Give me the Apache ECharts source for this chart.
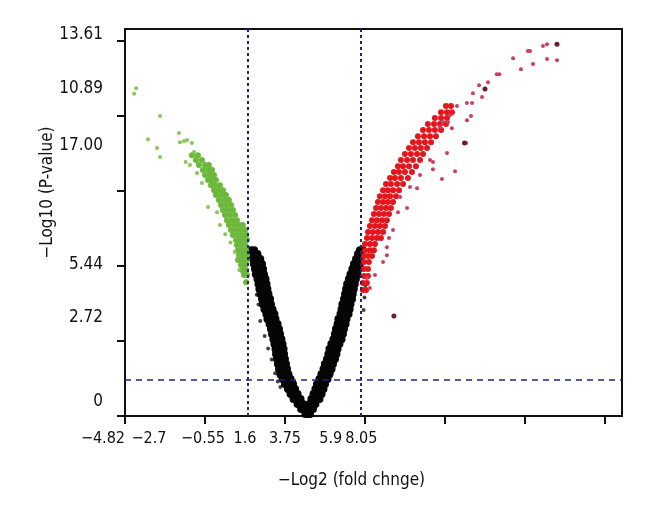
<!DOCTYPE html>
<html>
<head>
<meta charset="utf-8">
<script src="https://cdn.jsdelivr.net/npm/echarts@6/dist/echarts.min.js"></script>
<style>html,body{margin:0;padding:0;background:#fff;}#chart{width:660px;height:520px;}</style>
</head>
<body>
<div id="chart"></div>
<script>
// ---- tick labels (as printed in the figure) ----
const xTickValues = [-5.42, -0.854, 3.712, 8.278, 12.844, 17.41, 21.976];
const xLabelTexts = ['−4.82', '−2.7', '−0.55', '1.6', '3.75', '5.9', '8.05'];
const xLabelAt = [-5.42, -4.05, -0.97, 1.43, 3.71, 6.32, 8.07];
const yTickValues = [0, 2.722, 5.444, 8.166, 10.888, 13.61];
const yLabelTexts = ['0', '2.72', '5.44', '17.00', '10.89', '13.61'];
const yLabelAt = [0.508, 3.59, 5.48, 9.835, 11.90, 13.83];
const foldThresholds = [1.6, 8.05];
const pThreshold = 1.30;

// ---- points: [log2 fold change, -log10 p] ----
const blackLeft = [
[4.88,0.07],[5.02,0.07],[4.63,0.25],[4.88,0.25],
[4.43,0.44],[4.60,0.44],[4.74,0.44],[4.20,0.62],[4.40,0.62],[4.60,0.62],
[4.03,0.80],[4.23,0.80],[4.43,0.80],[3.88,0.98],[4.08,0.98],[4.29,0.98],
[3.71,1.16],[3.94,1.16],[4.17,1.16],[3.57,1.34],[3.80,1.34],[4.03,1.34],
[3.45,1.52],[3.68,1.52],[3.91,1.52],[3.37,1.71],[3.60,1.71],[3.83,1.71],
[3.31,1.89],[3.54,1.89],[3.77,1.89],[3.25,2.07],[3.48,2.07],[3.71,2.07],
[3.20,2.25],[3.43,2.25],[3.66,2.25],[3.17,2.43],[3.40,2.43],[3.63,2.43],
[3.11,2.61],[3.34,2.61],[3.57,2.61],[3.05,2.79],[3.28,2.79],[3.51,2.79],
[2.97,2.98],[3.20,2.98],[3.43,2.98],[2.91,3.16],[3.14,3.16],[3.37,3.16],
[2.83,3.34],[3.06,3.34],[3.29,3.34],[2.71,3.52],[2.94,3.52],[3.17,3.52],
[2.65,3.70],[2.88,3.70],[3.11,3.70],[2.54,3.88],[2.77,3.88],[3.00,3.88],
[2.45,4.06],[2.68,4.06],[2.91,4.06],[2.40,4.25],[2.63,4.25],[2.86,4.25],
[2.31,4.43],[2.54,4.43],[2.77,4.43],[2.25,4.61],[2.48,4.61],[2.71,4.61],
[2.20,4.79],[2.43,4.79],[2.66,4.79],[2.14,4.97],[2.37,4.97],[2.60,4.97],
[2.05,5.15],[2.28,5.15],[2.51,5.15],[2.00,5.34],[2.23,5.34],[2.46,5.34],
[1.94,5.52],[2.17,5.52],[2.40,5.52],[1.88,5.70],[2.09,5.70],[2.30,5.70],
[1.80,5.88],[1.97,5.88],[2.14,5.88],[1.75,6.02],[1.95,6.02]
];
const blackRight = [
[5.00,0.07],[5.14,0.07],[5.08,0.25],[5.31,0.25],
[5.11,0.44],[5.28,0.44],[5.45,0.44],[5.22,0.62],[5.45,0.62],[5.68,0.62],
[5.34,0.80],[5.57,0.80],[5.80,0.80],[5.45,0.98],[5.68,0.98],[5.91,0.98],
[5.54,1.16],[5.77,1.16],[6.00,1.16],[5.68,1.34],[5.91,1.34],[6.14,1.34],
[5.79,1.52],[6.02,1.52],[6.25,1.52],[5.91,1.71],[6.14,1.71],[6.37,1.71],
[5.99,1.89],[6.22,1.89],[6.45,1.89],[6.11,2.07],[6.34,2.07],[6.57,2.07],
[6.19,2.25],[6.42,2.25],[6.65,2.25],[6.25,2.43],[6.48,2.43],[6.71,2.43],
[6.36,2.61],[6.59,2.61],[6.82,2.61],[6.48,2.79],[6.71,2.79],[6.94,2.79],
[6.56,2.98],[6.79,2.98],[7.02,2.98],[6.62,3.16],[6.85,3.16],[7.08,3.16],
[6.71,3.34],[6.94,3.34],[7.17,3.34],[6.76,3.52],[6.99,3.52],[7.22,3.52],
[6.88,3.70],[7.11,3.70],[7.34,3.70],[6.94,3.88],[7.17,3.88],[7.40,3.88],
[6.99,4.06],[7.22,4.06],[7.45,4.06],[7.08,4.25],[7.31,4.25],[7.54,4.25],
[7.14,4.43],[7.36,4.43],[7.58,4.43],[7.20,4.61],[7.42,4.61],[7.64,4.61],
[7.26,4.79],[7.48,4.79],[7.70,4.79],[7.36,4.97],[7.56,4.97],[7.76,4.97],
[7.45,5.15],[7.65,5.15],[7.85,5.15],[7.56,5.34],[7.74,5.34],[7.92,5.34],
[7.65,5.52],[7.82,5.52],[7.99,5.52],[7.77,5.70],[7.99,5.70],
[7.88,5.88],[8.05,5.88],[7.99,6.02],[8.14,6.02]
];
const blackOutliers = [
[2.30,3.45],[2.55,2.90],[2.75,2.45],[2.95,2.05],[3.15,1.55],[3.45,1.05],
[2.20,4.05],[3.30,1.25],[8.25,4.30],[8.20,3.85],[8.30,4.75],[6.40,1.60],[2.10,4.40]
];
const greenDense = [
[-1.60,9.47],[-1.26,9.47],[-1.37,9.29],[-1.03,9.29],
[-1.20,9.11],[-0.85,9.11],[-0.63,9.11],[-0.97,8.93],[-0.68,8.93],[-0.45,8.93],
[-0.85,8.75],[-0.57,8.75],[-0.34,8.75],[-0.68,8.57],[-0.45,8.57],[-0.23,8.57],
[-0.51,8.38],[-0.28,8.38],[0.00,8.38],[-0.34,8.20],[-0.11,8.20],[0.17,8.20],
[-0.23,8.02],[0.06,8.02],[0.34,8.02],[-0.06,7.84],[0.23,7.84],[0.51,7.84],
[0.06,7.66],[0.34,7.66],[0.63,7.66],[0.17,7.48],[0.46,7.48],[0.74,7.48],
[0.29,7.30],[0.57,7.30],[0.86,7.30],[0.40,7.11],[0.69,7.11],[0.97,7.11],
[0.51,6.93],[0.80,6.93],[1.09,6.93],[1.31,6.93],[0.63,6.75],[0.92,6.75],[1.20,6.75],[1.43,6.75],
[0.74,6.57],[1.03,6.57],[1.26,6.57],[1.49,6.57],[0.92,6.39],[1.14,6.39],[1.37,6.39],[1.54,6.39],
[0.97,6.21],[1.20,6.21],[1.43,6.21],[1.03,6.02],[1.26,6.02],[1.49,6.02],
[1.09,5.84],[1.31,5.84],[1.54,5.84],[1.03,5.66],[1.31,5.66],[1.54,5.66],
[1.20,5.48],[1.43,5.48],[1.26,5.30],[1.49,5.30],[1.37,5.12],[1.54,5.12],[1.49,4.86]
];
const greenSparse = [
[-4.90,11.70],[-4.78,11.90],[-3.42,10.89],[-4.11,10.05],[-3.59,9.73],[-3.42,9.40],
[-2.34,10.27],[-2.28,9.94],[-2.05,9.98],[-1.88,10.02],[-1.60,9.91],[-1.96,9.22],
[-1.71,9.11],[-1.48,9.58],[-1.31,8.82],[-1.03,8.46],[-0.68,7.59],[-0.17,7.40],
[0.00,6.93],[0.30,6.60],[0.60,6.30],[0.85,5.95],[1.10,5.30]
];
const redDense = [
[8.16,4.57],[8.34,4.57],[8.16,4.83],[8.39,4.83],[8.22,5.08],[8.45,5.08],
[8.22,5.34],[8.45,5.34],[8.22,5.59],[8.50,5.59],[8.22,5.81],[8.45,5.81],[8.68,5.81],
[8.28,6.02],[8.56,6.02],[8.79,6.02],[8.28,6.24],[8.56,6.24],[8.85,6.24],
[8.39,6.46],[8.68,6.46],[8.96,6.46],[9.19,6.46],[8.45,6.68],[8.73,6.68],[9.02,6.68],[9.31,6.68],
[8.56,6.90],[8.85,6.90],[9.13,6.90],[9.42,6.90],[8.68,7.11],[8.96,7.11],[9.25,7.11],[9.53,7.11],
[8.79,7.33],[9.08,7.33],[9.36,7.33],[9.65,7.33],[8.91,7.55],[9.19,7.55],[9.48,7.55],[9.76,7.55],
[9.02,7.77],[9.31,7.77],[9.59,7.77],[9.88,7.77],[9.13,7.98],[9.42,7.98],[9.71,7.98],[10.05,7.98],
[9.31,8.20],[9.59,8.20],[9.88,8.20],[10.22,8.20],[9.48,8.42],[9.76,8.42],[10.11,8.42],[10.45,8.42],
[9.71,8.64],[9.99,8.64],[10.33,8.64],[10.73,8.64],[9.93,8.86],[10.22,8.86],[10.56,8.86],[10.96,8.86],
[10.16,9.07],[10.45,9.07],[10.79,9.07],[11.19,9.07],[10.33,9.29],[10.68,9.29],[11.02,9.29],[11.42,9.29],
[10.56,9.51],[10.90,9.51],[11.25,9.51],[11.59,9.51],[10.79,9.73],[11.13,9.73],[11.47,9.73],[11.82,9.73],
[11.02,9.94],[11.36,9.94],[11.70,9.94],[12.05,9.94],[11.30,10.16],[11.65,10.16],[11.99,10.16],[12.33,10.16],
[11.59,10.38],[11.93,10.38],[12.27,10.38],[12.62,10.38],[11.87,10.60],[12.22,10.60],[12.56,10.60],[12.90,10.60],
[12.27,10.82],[12.62,10.82],[12.96,10.82],[12.62,11.03],[12.96,11.03],[13.24,11.03],[12.90,11.25],[13.19,11.25]
];
const redSparse = [
[18.67,13.50],[18.44,13.43],[18.67,12.96],[19.24,12.92],[17.58,13.25],[17.70,13.25],
[17.87,12.78],[17.18,12.59],[16.73,12.99],[15.80,12.41],[15.95,12.41],[15.30,12.12],
[14.79,12.01],[14.44,11.72],[14.96,11.58],[14.39,11.36],[14.10,11.36],[13.53,11.25],
[14.33,10.89],[14.10,10.74],[14.05,9.91],[13.13,10.92],[13.02,10.67],[12.73,10.67],
[13.24,10.45],[12.56,10.49],[12.96,9.55],[13.42,8.89],[12.67,8.60],[12.16,8.96],
[11.99,9.29],[12.16,9.22],[11.42,8.75],[11.25,8.27],[10.85,8.31],[10.68,7.55],
[10.28,7.95],[10.16,7.40],[9.88,6.75],[9.65,6.46],[9.53,6.13],[9.53,5.84],
[9.31,5.59],[8.85,5.12],[8.56,4.65],[8.39,5.01]
];
const darkPoints = [[19.24,13.50],[15.13,11.87],[13.96,9.91],[9.93,3.63]];

const FONT = '"Liberation Sans Narrow","DejaVu Sans Condensed","Roboto Condensed","Liberation Sans",sans-serif';
function nearestIdx(arr, v) {
  let b = 0;
  for (let i = 1; i < arr.length; i++) if (Math.abs(arr[i] - v) < Math.abs(arr[b] - v)) b = i;
  return b;
}
const chart = echarts.init(document.getElementById('chart'), null, {renderer: 'canvas'});
function sc(data, color, size, z) {
  return {type: 'scatter', data: data, symbol: 'circle', symbolSize: size, z: z,
    itemStyle: {color: color, opacity: 1, borderWidth: 0}, silent: true, animation: false};
}
const series = [
  sc(blackOutliers, '#444444', 4, 2),
  sc(blackLeft, '#050505', 8, 3),
  sc(blackRight, '#050505', 8, 3),
  sc(greenDense, '#6cb83a', 6, 3),
  sc(greenSparse, '#86c65a', 4, 3),
  sc(redDense, '#e3161c', 6, 3),
  sc(redSparse, '#cf3c62', 4, 3),
  sc(darkPoints, '#6e1a35', 5, 3)
];
series.push({
  type: 'scatter', data: [], z: 5, silent: true,
  markLine: {
    silent: true, symbol: 'none', animation: false,
    label: {show: false},
    lineStyle: {color: '#23237a', width: 2},
    data: [
      {xAxis: foldThresholds[0], lineStyle: {type: [3, 3], color: '#23237a', width: 2}},
      {xAxis: foldThresholds[1], lineStyle: {type: [3, 3], color: '#23237a', width: 2}},
      {yAxis: pThreshold, lineStyle: {type: [6, 5], color: '#23237a', width: 1.5}}
    ]
  }
});
chart.setOption({
  animation: false,
  backgroundColor: '#ffffff',
  grid: {left: 125, right: 38, top: 29, bottom: 104, show: true, borderColor: '#111', borderWidth: 2, backgroundColor: 'transparent'},
  xAxis: {
    type: 'value', min: -5.42, max: 22.95,
    name: '−Log2 (fold chnge)', nameLocation: 'middle', nameGap: 56, nameMoveOverlap: false,
    nameTextStyle: {fontFamily: FONT, fontSize: 17, color: '#111', padding: [0, 44, 0, 0]},
    axisLine: {show: true, onZero: false, lineStyle: {color: '#111', width: 2}},
    axisTick: {show: true, length: 8, lineStyle: {color: '#111', width: 2}, customValues: xTickValues},
    axisLabel: {
      fontFamily: FONT, fontSize: 16, color: '#111', margin: 15,
      showMinLabel: true, hideOverlap: false, alignMinLabel: 'right',
      customValues: xLabelAt,
      formatter: function (v) { return xLabelTexts[nearestIdx(xLabelAt, v)]; }
    },
    splitLine: {show: false}
  },
  yAxis: {
    type: 'value', min: 0, max: 14.05,
    name: '−Log10 (P-value)', nameLocation: 'middle', nameGap: 69, nameMoveOverlap: false,
    nameTextStyle: {fontFamily: FONT, fontSize: 17, color: '#111', padding: [0, 0, 0, 60]},
    axisLine: {show: true, onZero: false, lineStyle: {color: '#111', width: 2}},
    axisTick: {show: true, length: 8, lineStyle: {color: '#111', width: 2}, customValues: yTickValues},
    axisLabel: {
      fontFamily: FONT, fontSize: 17, color: '#111', margin: 22,
      customValues: yLabelAt,
      formatter: function (v) { return yLabelTexts[nearestIdx(yLabelAt, v)]; }
    },
    splitLine: {show: false}
  },
  series: series
});
</script>
</body>
</html>
